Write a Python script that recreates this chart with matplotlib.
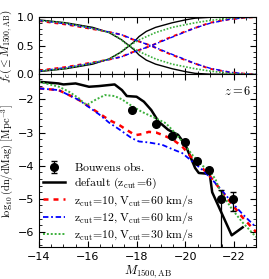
import numpy as np
import matplotlib
matplotlib.use('Agg')
import matplotlib.pyplot as plt
from matplotlib.ticker import MultipleLocator

plt.rcParams['mathtext.fontset'] = 'cm'
plt.rcParams['font.size'] = 8

# ---- bottom panel: luminosity functions ----
m_default = [-14.0, -14.8, -15.0, -15.5, -16.05, -16.45, -17.1, -17.4, -17.6, -18.0, -18.3,
             -18.6, -18.9, -19.3, -19.7, -20.0, -20.2, -20.4, -20.55, -21.0, -21.1, -21.9, -22.35]
lf_default = [-1.47, -1.52, -1.55, -1.52, -1.62, -1.60, -1.55, -1.72, -1.90, -1.92, -2.07,
              -2.32, -2.67, -2.92, -3.07, -3.37, -3.72, -4.07, -4.22, -4.25, -4.80, -6.10, -5.86]

m_z10v60 = [-14.0, -14.8, -15.23, -15.64, -16.05, -16.46, -16.87, -17.28, -17.7, -17.95, -18.2,
            -18.5, -18.8, -19.05, -19.46, -19.87, -20.28, -20.69, -21.1, -21.5, -21.9, -22.33, -22.9]
lf_z10v60 = [-1.67, -1.72, -1.87, -2.02, -2.22, -2.42, -2.62, -2.77, -2.97, -3.08, -3.05,
             -2.98, -3.00, -3.07, -3.20, -3.42, -3.77, -4.07, -4.40, -4.78, -5.15, -5.55, -6.00]

m_z12v60 = [-14.0, -14.8, -15.64, -16.46, -16.87, -17.28, -17.8, -18.1, -18.5, -19.05, -19.46,
            -19.87, -20.28, -20.69, -21.1, -21.5, -21.9, -22.33, -22.9]
lf_z12v60 = [-1.67, -1.72, -2.02, -2.45, -2.70, -2.90, -3.17, -3.27, -3.30, -3.37, -3.50,
             -3.62, -3.87, -4.12, -4.42, -4.75, -5.10, -5.45, -5.86]

m_z10v30 = [-14.0, -14.82, -15.23, -15.64, -15.85, -16.0, -16.3, -16.7, -17.1, -17.4, -17.7,
            -18.2, -18.78, -19.2, -19.46, -19.87, -20.28, -20.69, -20.97, -21.24, -21.4,
            -21.9, -22.33, -22.9]
lf_z10v30 = [-1.47, -1.62, -1.77, -1.97, -2.12, -2.15, -2.02, -1.87, -1.90, -2.00, -2.15,
             -2.37, -2.57, -2.72, -2.92, -3.27, -3.67, -4.00, -4.12, -4.42, -4.72,
             -5.30, -5.70, -6.15]

obs_m = [-17.82, -18.78, -19.46, -19.98, -20.49, -20.97, -21.45, -21.95]
obs_lf = [-2.32, -2.75, -3.12, -3.30, -3.87, -4.12, -5.00, -5.00]
obs_err_lo = [0.04, 0.04, 0.04, 0.04, 0.05, 0.05, 3.0, 0.37]
obs_err_hi = [0.04, 0.04, 0.04, 0.04, 0.05, 0.05, 0.28, 0.20]

# ---- top panel: fractions (falling and rising branches) ----
fm_default = [-14.0, -15.1, -16.2, -16.87, -17.4, -17.7, -17.9, -18.1, -18.4, -18.78, -19.46,
              -20.0, -20.4, -21.0, -22.9]
fdown_default = [0.95, 0.90, 0.82, 0.73, 0.60, 0.50, 0.43, 0.34, 0.25, 0.18, 0.10,
                 0.05, 0.02, 0.005, 0.0]
fup_default = [0.05, 0.10, 0.18, 0.27, 0.40, 0.50, 0.57, 0.66, 0.75, 0.82, 0.90,
               0.95, 0.98, 0.995, 1.0]

fm_z10v60 = [-14.0, -15.1, -16.2, -16.87, -17.4, -17.7, -18.2, -18.6, -19.0, -19.46, -20.0,
             -20.4, -21.0, -21.8, -22.5, -22.9]
fdown_z10v60 = [0.93, 0.87, 0.79, 0.74, 0.69, 0.63, 0.56, 0.50, 0.42, 0.34, 0.25,
                0.19, 0.10, 0.04, 0.01, 0.0]
fup_z10v60 = [0.07, 0.13, 0.21, 0.26, 0.31, 0.37, 0.44, 0.50, 0.58, 0.66, 0.75,
              0.81, 0.90, 0.96, 0.99, 1.0]

fm_z12v60 = [-14.0, -15.1, -16.2, -16.87, -17.4, -17.7, -18.2, -18.6, -19.0, -19.46, -20.0,
             -20.4, -21.0, -21.8, -22.5, -22.9]
fdown_z12v60 = [0.94, 0.88, 0.80, 0.74, 0.69, 0.64, 0.56, 0.50, 0.43, 0.35, 0.26,
                0.19, 0.11, 0.04, 0.01, 0.0]
fup_z12v60 = [0.06, 0.12, 0.20, 0.26, 0.31, 0.36, 0.44, 0.50, 0.57, 0.65, 0.74,
              0.81, 0.89, 0.96, 0.99, 1.0]

fm_z10v30 = [-14.0, -15.0, -16.0, -16.9, -17.3, -17.6, -18.1, -18.78, -19.46, -20.4, -21.0,
             -21.8, -22.9]
fdown_z10v30 = [0.94, 0.90, 0.82, 0.73, 0.63, 0.52, 0.40, 0.27, 0.18, 0.10, 0.06, 0.02, 0.0]
fup_z10v30 = [0.06, 0.10, 0.18, 0.27, 0.37, 0.48, 0.60, 0.73, 0.82, 0.90, 0.94, 0.98, 1.0]

green = '#3cb03c'

fig = plt.figure(figsize=(2.69, 2.79), dpi=100)
gs = fig.add_gridspec(2, 1, height_ratios=[1, 3], hspace=0)
fig.subplots_adjust(left=0.145, right=0.952, top=0.939, bottom=0.115)
ax1 = fig.add_subplot(gs[0])
ax2 = fig.add_subplot(gs[1], sharex=ax1)

ax1.plot(fm_default, fdown_default, 'k-', lw=1.0)
ax1.plot(fm_default, fup_default, 'k-', lw=1.0)
ax1.plot(fm_z10v60, fdown_z10v60, color='r', ls=(0, (2, 2)), lw=1.4)
ax1.plot(fm_z10v60, fup_z10v60, color='r', ls=(0, (2, 2)), lw=1.4)
ax1.plot(fm_z12v60, fdown_z12v60, color='b', ls=(0, (3, 1.5, 1, 1.5)), lw=1.0)
ax1.plot(fm_z12v60, fup_z12v60, color='b', ls=(0, (3, 1.5, 1, 1.5)), lw=1.0)
ax1.plot(fm_z10v30, fdown_z10v30, color=green, ls=(0, (1, 1)), lw=1.2)
ax1.plot(fm_z10v30, fup_z10v30, color=green, ls=(0, (1, 1)), lw=1.2)
ax1.set_ylim(0, 1)
ax1.set_yticks([0, 0.5, 1.0])
ax1.yaxis.set_minor_locator(MultipleLocator(0.1))
ax1.set_ylabel(r'$f_c(\leq M_{\rm 1500,AB})$', fontsize=8, labelpad=1)
plt.setp(ax1.get_xticklabels(), visible=False)

ax2.errorbar(obs_m, obs_lf, yerr=[obs_err_lo, obs_err_hi], fmt='o', color='k',
             ms=5.5, capsize=2, elinewidth=0.9, zorder=5, label=r'$\rm Bouwens\ obs.$')
ax2.plot(m_default, lf_default, 'k-', lw=1.8, label=r'$\rm default\ (z_{cut}\!=\!6)$')
ax2.plot(m_z10v60, lf_z10v60, color='r', ls=(0, (2, 2)), lw=1.8,
         label=r'$\rm z_{cut}\!=\!10,V_{cut}\!=\!60\ km/s$')
ax2.plot(m_z12v60, lf_z12v60, color='b', ls=(0, (3, 1.5, 1, 1.5)), lw=1.3,
         label=r'$\rm z_{cut}\!=\!12,V_{cut}\!=\!60\ km/s$')
ax2.plot(m_z10v30, lf_z10v30, color=green, ls=(0, (1, 1)), lw=1.4,
         label=r'$\rm z_{cut}\!=\!10,V_{cut}\!=\!30\ km/s$')
ax2.set_xlim(-14, -22.9)
ax2.set_ylim(-6.45, -1.25)
ax2.set_xticks([-14, -16, -18, -20, -22])
ax2.xaxis.set_minor_locator(MultipleLocator(0.5))
ax2.yaxis.set_major_locator(MultipleLocator(1))
ax2.yaxis.set_minor_locator(MultipleLocator(0.2))
ax2.set_xlabel(r'$M_{\rm 1500,AB}$', fontsize=9, labelpad=1)
ax2.set_ylabel(r'$\log_{10}({\rm dn/dMag})\ [{\rm Mpc}^{-3}]$', fontsize=7.5, labelpad=1)
ax2.text(0.98, 0.9, r'$z=6$', transform=ax2.transAxes, ha='right', va='center', fontsize=9)

handles, labels = ax2.get_legend_handles_labels()
order = [4, 0, 1, 2, 3]
ax2.legend([handles[i] for i in order], [labels[i] for i in order], loc='lower left',
           frameon=False, fontsize=8.5, handlelength=1.9, handletextpad=0.8,
           labelspacing=0.12, borderaxespad=0.1, borderpad=0.2)

for ax in (ax1, ax2):
    ax.tick_params(which='both', direction='in', top=True, right=True, labelsize=8)
    ax.tick_params(which='major', length=4)
    ax.tick_params(which='minor', length=2)
fig.align_ylabels([ax1, ax2])

fig.savefig('out.png', dpi=100)
